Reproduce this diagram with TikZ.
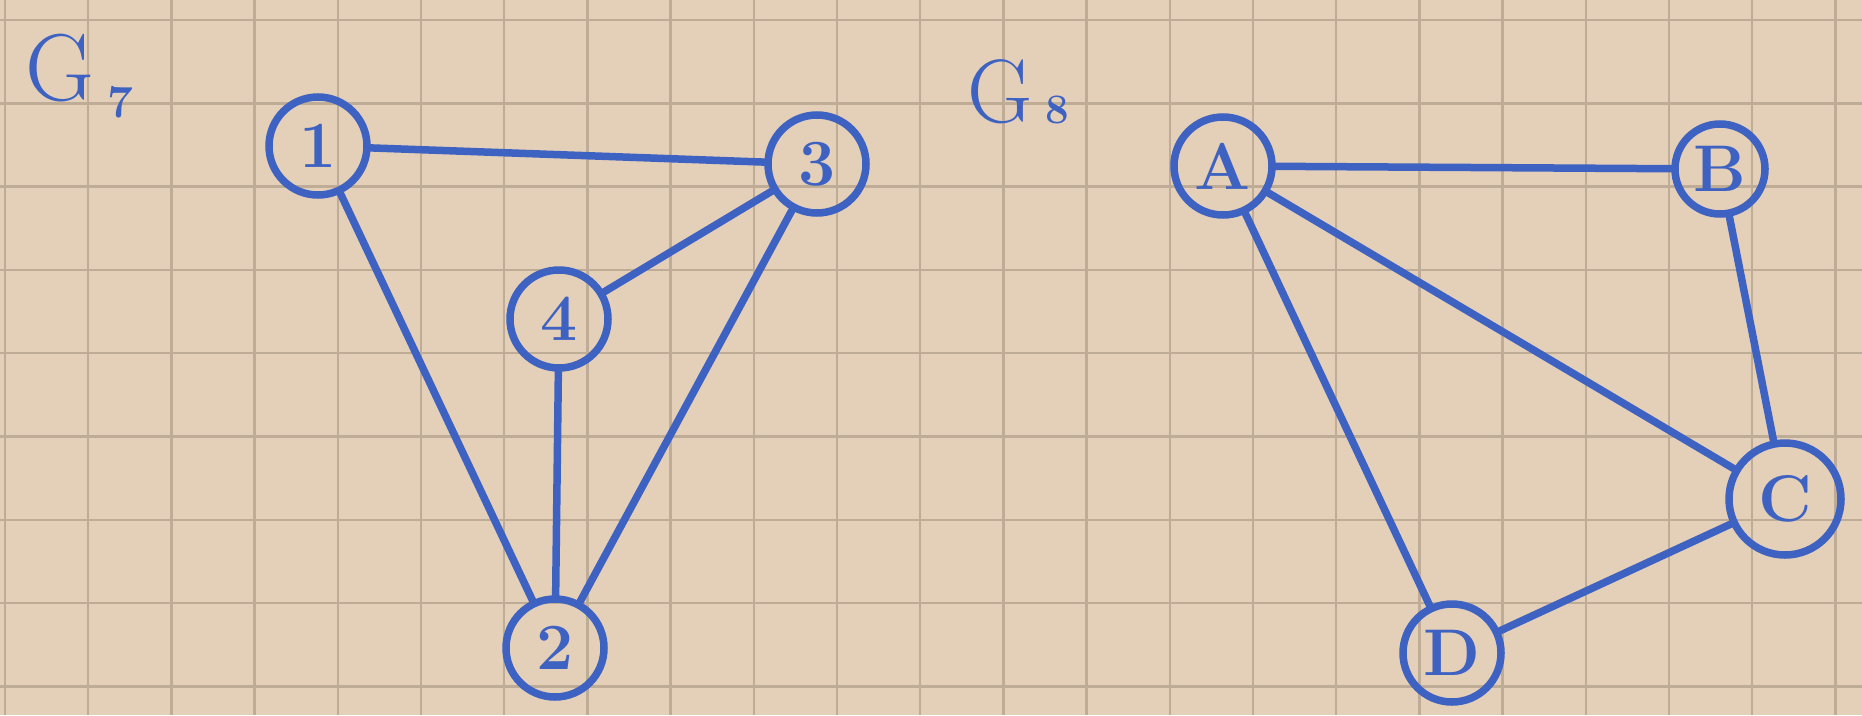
\documentclass[tikz,border=0pt]{standalone}
\usepackage{fontspec}
\definecolor{paper}{HTML}{E4CFB9}
\definecolor{gridc}{HTML}{BFAC97}
\definecolor{ink}{HTML}{3D62C2}
\begin{document}
\begin{tikzpicture}[x=1pt,y=-1pt,
  vert/.style={circle, draw=ink, line width=7.5pt, minimum size=98pt, inner sep=0pt,
    text=ink, font=\fontsize{66}{72}\selectfont\bfseries},
  edge/.style={draw=ink, line width=7.5pt, line cap=round},
  lbl/.style={text=ink, inner sep=0pt}]
\fill[paper] (0,0) rectangle (1862,715);
\useasboundingbox (0,0) rectangle (1862,715);
\foreach \k in {0,...,22} {\draw[gridc, line width=2.5pt] ({5+83.2*\k},0) -- ({5+83.2*\k},715);}
\foreach \k in {0,...,8} {\draw[gridc, line width=2.5pt] (0,{20+83.3*\k}) -- (1862,{20+83.3*\k});}
% labels
\node[lbl, font=\fontsize{95}{100}\selectfont] (g7) at (60,68) {G};
\node[lbl, font=\fontsize{46}{50}\selectfont\bfseries] (g7s) at (120,102) {7};
\node[lbl, font=\fontsize{90}{95}\selectfont] (g8) at (1000,92) {G};
\node[lbl, font=\fontsize{42}{46}\selectfont\bfseries] (g8s) at (1057,110) {8};
% G7
\node[vert] (n1) at (318,146) {1};
\node[vert] (n3) at (817,164) {3};
\node[vert] (n4) at (559,319) {4};
\node[vert] (n2) at (555,648) {2};
\draw[edge] (n1) -- (n3);
\draw[edge] (n1) -- (n2);
\draw[edge] (n3) -- (n4);
\draw[edge] (n3) -- (n2);
\draw[edge] (n4) -- (n2);
% G8
\node[vert] (A) at (1223,166) {A};
\node[vert, minimum size=90pt] (B) at (1720,169) {B};
\node[vert, minimum size=112pt] (C) at (1785,499) {C};
\node[vert] (D) at (1452,653) {D};
\draw[edge] (A) -- (B);
\draw[edge] (A) -- (C);
\draw[edge] (A) -- (D);
\draw[edge] (B) -- (C);
\draw[edge] (C) -- (D);
\end{tikzpicture}
\end{document}
